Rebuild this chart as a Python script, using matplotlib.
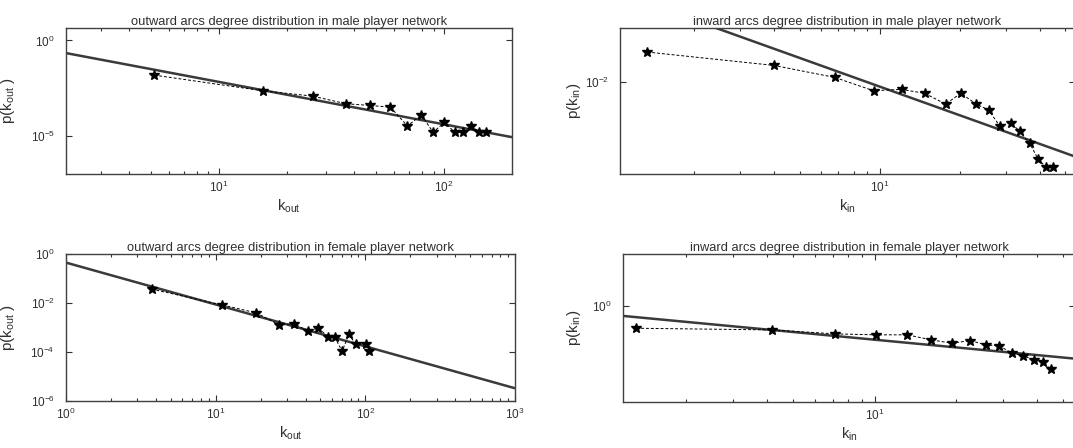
import numpy as np
import matplotlib
matplotlib.use("Agg")
import matplotlib.pyplot as plt
from matplotlib.ticker import NullLocator, NullFormatter, LogLocator

plt.rcParams['font.family'] = ['Liberation Sans', 'DejaVu Sans']
plt.rcParams['mathtext.fontset'] = 'custom'
plt.rcParams['mathtext.rm'] = 'Liberation Sans'
plt.rcParams['mathtext.it'] = 'Liberation Sans'

# ---------------- data ----------------
# outward arcs, male network
k_out_male = [5.18, 15.7, 26.1, 36.8, 47.1, 57.8, 68.7, 79.3, 89.3, 100.3, 111.4, 121.3, 132.0, 142.9, 152.9]
logp_out_male = [-1.82, -2.64, -2.92, -3.32, -3.41, -3.50, -4.48, -3.90, -4.81, -4.30, -4.81, -4.81, -4.48, -4.81, -4.81]
fit_k_out_male = [2.1, 200.0]
fit_logp_out_male = [-0.664, -5.07]

# inward arcs, male network
k_in_male = [1.34, 4.0, 6.78, 9.49, 12.1, 14.8, 17.7, 20.2, 23.1, 25.7, 28.3, 31.1, 33.6, 36.7, 39.5, 42.1, 44.7]
logp_in_male = [-1.753, -1.864, -1.964, -2.075, -2.064, -2.097, -2.186, -2.097, -2.186, -2.236,
                -2.369, -2.342, -2.411, -2.514, -2.647, -2.708, -2.708]
fit_k_in_male = [2.39, 55.0]
fit_logp_in_male = [-1.547, -2.628]

# outward arcs, female network
k_out_female = [3.73, 11.1, 18.7, 26.3, 33.4, 41.6, 48.5, 56.5, 62.5, 70.0, 77.5, 86.7, 101.0, 106.0]
logp_out_female = [-1.432, -2.081, -2.405, -2.878, -2.851, -3.149, -3.014, -3.392, -3.392, -3.973,
                   -3.284, -3.689, -3.662, -3.973]
fit_k_out_female = [1.0, 1000.0]
fit_logp_out_female = [-0.351, -5.48]

# inward arcs, female network
k_in_female = [1.31, 4.18, 7.15, 10.1, 13.2, 16.2, 19.3, 22.6, 25.8, 28.9, 32.3, 35.4, 38.8, 42.0, 44.9]
logp_in_female = [-0.189, -0.203, -0.236, -0.244, -0.244, -0.286, -0.314, -0.292, -0.328, -0.336,
                  -0.397, -0.417, -0.453, -0.475, -0.531]
fit_k_in_female = [1.17, 55.2]
fit_logp_in_female = [-0.086, -0.443]

titles = ["outward arcs degree distribution in male player network",
          "inward arcs degree distribution in male player network",
          "outward arcs degree distribution in female player network",
          "inward arcs degree distribution in female player network"]
xlabels = [r'$\mathregular{k_{out}}$', r'$\mathregular{k_{in}}$',
           r'$\mathregular{k_{out}}$', r'$\mathregular{k_{in}}$']
ylabels = [r'$\mathregular{p(k_{out}\ )}$', r'$\mathregular{p(k_{in})}$',
           r'$\mathregular{p(k_{out}\ )}$', r'$\mathregular{p(k_{in})}$']

# ---------------- layout ----------------
W, H = 1073, 448
fig = plt.figure(figsize=(W / 100, H / 100), dpi=100)
fig.patch.set_facecolor('white')

def add_ax(l, r, t, b):
    return fig.add_axes([l / W, 1 - b / H, (r - l) / W, (b - t) / H])

# (left, right, top, bottom) in pixels, xlim, ylim (log10), yticks (log10), ylabel x px
specs = [
    ((66, 512, 28, 174), (2.1, 200.0), (-7.0, 0.65), [-5, 0], 17),
    ((620, 1075, 28, 174), (1.057, 54.3), (-2.769, -1.5525), [-2], 583),
    ((66, 515, 254, 401), (1.0, 1000.0), (-6.0, 0.0), [-6, -4, -2, 0], 17),
    ((623, 1075, 254, 402), (1.17, 55.2), (-0.805, 0.431), [0], 583),
]
series = [
    (k_out_male, logp_out_male, fit_k_out_male, fit_logp_out_male),
    (k_in_male, logp_in_male, fit_k_in_male, fit_logp_in_male),
    (k_out_female, logp_out_female, fit_k_out_female, fit_logp_out_female),
    (k_in_female, logp_in_female, fit_k_in_female, fit_logp_in_female),
]

txt = '#303030'
for i, ((pos, xl, yl, yt, ylx), (k, lp, fk, flp)) in enumerate(zip(specs, series)):
    ax = add_ax(*pos)
    ax.set_xscale('log')
    ax.set_yscale('log')
    ax.plot(fk, 10.0 ** np.array(flp), color='#3a3a3a', lw=1.8, solid_capstyle='butt', zorder=2)
    ax.plot(k, 10.0 ** np.array(lp), color='black', lw=0.7, linestyle='--', dashes=(3, 2),
            marker='*', ms=7.5, mfc='black', mec='black', zorder=3)
    ax.set_xlim(*xl)
    ax.set_ylim(10.0 ** yl[0], 10.0 ** yl[1])
    ax.set_yticks([10.0 ** v for v in yt])
    ax.yaxis.set_minor_locator(NullLocator())
    ax.xaxis.set_minor_locator(LogLocator(base=10, subs=np.arange(2, 10)))
    ax.xaxis.set_minor_formatter(NullFormatter())
    ax.tick_params(which='both', direction='in', top=True, right=True,
                   labelsize=8.5, labelcolor=txt, color='#333333', width=0.8)
    ax.tick_params(which='major', length=4)
    ax.tick_params(which='minor', length=2.5)
    ax.tick_params(axis='y', pad=8)
    ax.tick_params(axis='x', pad=4)
    for s in ax.spines.values():
        s.set_color('#404040')
        s.set_linewidth(1.0)
    ax.set_title(titles[i], fontsize=9.3, color=txt, pad=1.5)
    ax.set_xlabel(xlabels[i], fontsize=10.5, color=txt, labelpad=2)
    ax.set_ylabel(ylabels[i], fontsize=11, color=txt)
    l, r, t, b = pos
    ax.yaxis.set_label_coords((ylx - l) / (r - l), 0.5)

fig.savefig('out.png', dpi=100, facecolor='white')
